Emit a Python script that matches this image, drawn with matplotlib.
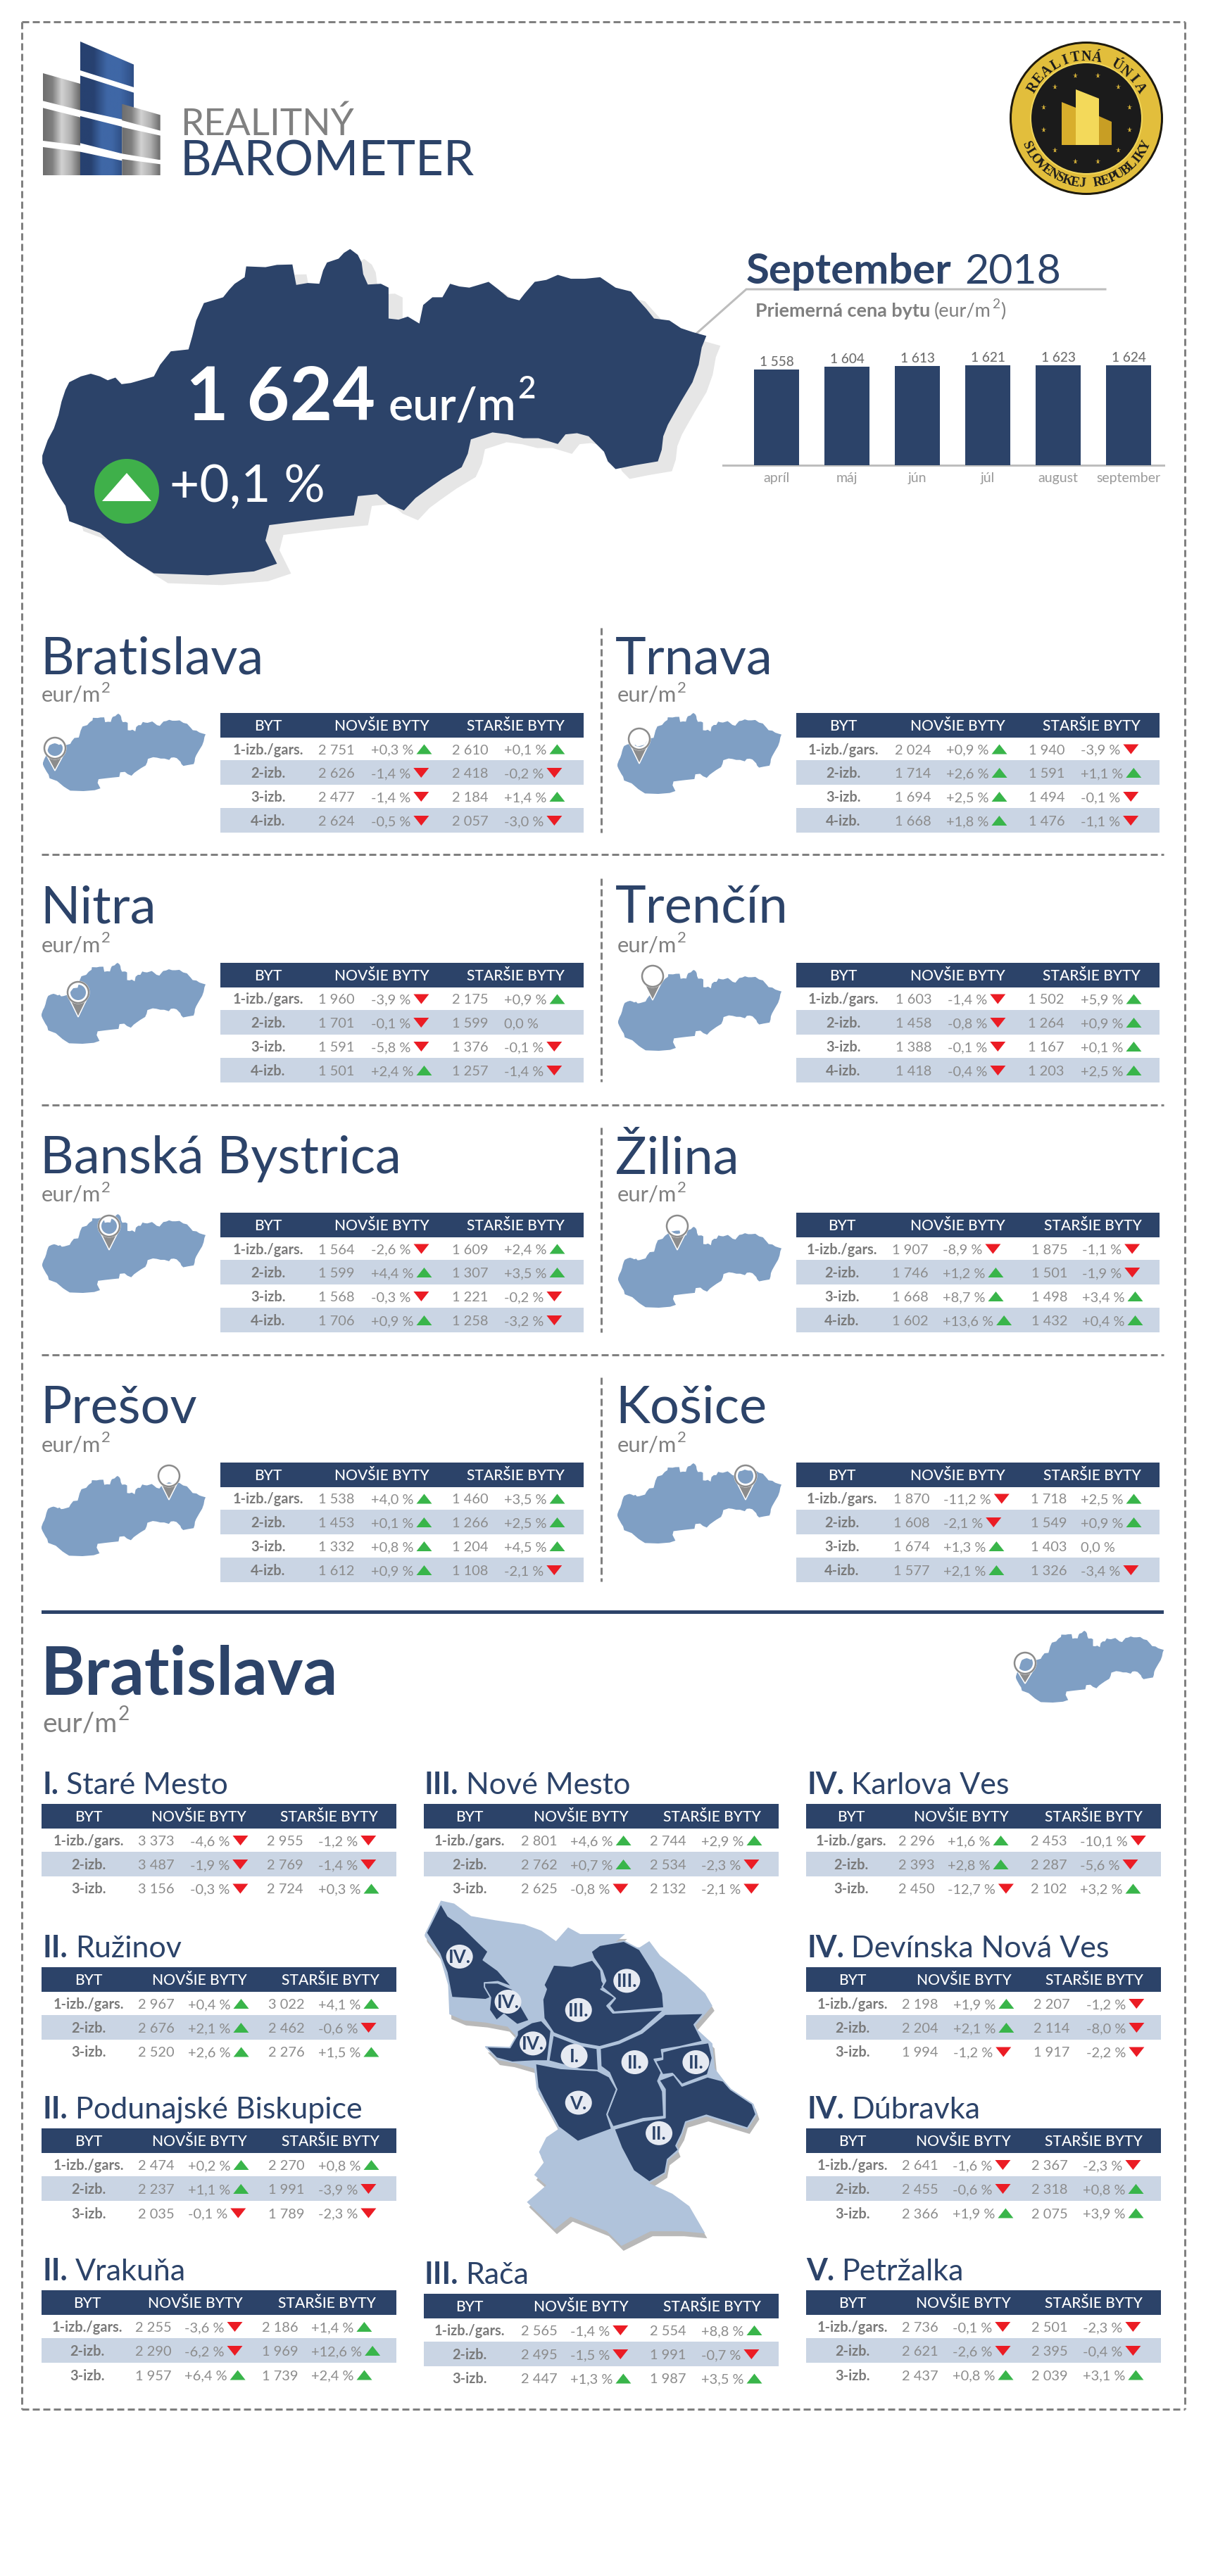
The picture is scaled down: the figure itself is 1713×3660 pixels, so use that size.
import math
import numpy as np
import matplotlib
matplotlib.use("Agg")
import matplotlib.pyplot as plt
from matplotlib.patches import Polygon, Circle, Ellipse, Rectangle
from matplotlib.colors import LinearSegmentedColormap

# ---------- data ----------
MONTHS = ["apríl", "máj", "jún", "júl", "august", "september"]
MONTH_PRICE = [1558, 1604, 1613, 1621, 1623, 1624]
NATIONAL_PRICE = "1 624"
NATIONAL_CHANGE = "+0,1 %"

ROOMS = ["1-izb./gars.", "2-izb.", "3-izb.", "4-izb."]
HEADERS = ["BYT", "NOVŠIE BYTY", "STARŠIE BYTY"]

REGION_NAMES = ["Bratislava", "Trnava", "Nitra", "Trenčín", "Banská Bystrica", "Žilina", "Prešov", "Košice"]
REGION_NEW_PRICE = [[2751, 2626, 2477, 2624], [2024, 1714, 1694, 1668], [1960, 1701, 1591, 1501],
                    [1603, 1458, 1388, 1418], [1564, 1599, 1568, 1706], [1907, 1746, 1668, 1602],
                    [1538, 1453, 1332, 1612], [1870, 1608, 1674, 1577]]
REGION_NEW_CHANGE = [[0.3, -1.4, -1.4, -0.5], [0.9, 2.6, 2.5, 1.8], [-3.9, -0.1, -5.8, 2.4],
                     [-1.4, -0.8, -0.1, -0.4], [-2.6, 4.4, -0.3, 0.9], [-8.9, 1.2, 8.7, 13.6],
                     [4.0, 0.1, 0.8, 0.9], [-11.2, -2.1, 1.3, 2.1]]
REGION_OLD_PRICE = [[2610, 2418, 2184, 2057], [1940, 1591, 1494, 1476], [2175, 1599, 1376, 1257],
                    [1502, 1264, 1167, 1203], [1609, 1307, 1221, 1258], [1875, 1501, 1498, 1432],
                    [1460, 1266, 1204, 1108], [1718, 1549, 1403, 1326]]
REGION_OLD_CHANGE = [[0.1, -0.2, 1.4, -3.0], [-3.9, 1.1, -0.1, -1.1], [0.9, 0.0, -0.1, -1.4],
                     [5.9, 0.9, 0.1, 2.5], [2.4, 3.5, -0.2, -3.2], [-1.1, -1.9, 3.4, 0.4],
                     [3.5, 2.5, 4.5, -2.1], [2.5, 0.9, 0.0, -3.4]]

DISTRICT_ROMAN = ["I.", "II.", "II.", "II.", "III.", "III.", "IV.", "IV.", "IV.", "V."]
DISTRICT_NAMES = ["Staré Mesto", "Ružinov", "Podunajské Biskupice", "Vrakuňa", "Nové Mesto", "Rača",
                  "Karlova Ves", "Devínska Nová Ves", "Dúbravka", "Petržalka"]
DISTRICT_NEW_PRICE = [[3373, 3487, 3156], [2967, 2676, 2520], [2474, 2237, 2035], [2255, 2290, 1957],
                      [2801, 2762, 2625], [2565, 2495, 2447], [2296, 2393, 2450], [2198, 2204, 1994],
                      [2641, 2455, 2366], [2736, 2621, 2437]]
DISTRICT_NEW_CHANGE = [[-4.6, -1.9, -0.3], [0.4, 2.1, 2.6], [0.2, 1.1, -0.1], [-3.6, -6.2, 6.4],
                       [4.6, 0.7, -0.8], [-1.4, -1.5, 1.3], [1.6, 2.8, -12.7], [1.9, 2.1, -1.2],
                       [-1.6, -0.6, 1.9], [-0.1, -2.6, 0.8]]
DISTRICT_OLD_PRICE = [[2955, 2769, 2724], [3022, 2462, 2276], [2270, 1991, 1789], [2186, 1969, 1739],
                      [2744, 2534, 2132], [2554, 1991, 1987], [2453, 2287, 2102], [2207, 2114, 1917],
                      [2367, 2318, 2075], [2501, 2395, 2039]]
DISTRICT_OLD_CHANGE = [[-1.2, -1.4, 0.3], [4.1, -0.6, 1.5], [0.8, -3.9, -2.3], [1.4, 12.6, 2.4],
                       [2.9, -2.3, -2.1], [8.8, -0.7, 3.5], [-10.1, -5.6, 3.2], [-1.2, -8.0, -2.2],
                       [-2.3, 0.8, 3.9], [-2.3, -0.4, 3.1]]

MAP_LABELS = ["IV.", "IV.", "IV.", "III.", "III.", "I.", "II.", "II.", "II.", "V."]

# ---------- layout ----------
W, H = 1713, 3660
NAVY = "#2C4369"
BAND = "#CAD5E4"
GRAY = "#808080"
MAP_BLUE = "#7F9FC4"
LIGHT_BLUE = "#B0C3DB"
UP = "#39B54A"
DOWN = "#EB1C24"
FONT = "Lato"

plt.rcParams["font.family"] = [FONT, "DejaVu Sans"]
plt.rcParams["lines.scale_dashes"] = False

fig = plt.figure(figsize=(W / 100, H / 100), dpi=100, facecolor="white")
ax = fig.add_axes([0, 0, 1, 1])
ax.set_xlim(0, W)
ax.set_ylim(H, 0)
ax.set_autoscale_on(False)
ax.axis("off")
renderer = fig.canvas.get_renderer()


def pt(px):
    return px * 0.72


def T(x, y, s, px, color=GRAY, weight="normal", ha="left", va="baseline", z=6, family=None, rot=0):
    return ax.text(x, y, s, fontsize=pt(px), color=color, fontweight=weight, ha=ha, va=va, zorder=z,
                   family=family if family else [FONT, "DejaVu Sans"], rotation=rot, rotation_mode="anchor")


def right_end(t):
    return t.get_window_extent(renderer).x1


def dashed(xs, ys, lw=3, on=10, off=5, color=GRAY):
    ax.plot(xs, ys, color=color, lw=pt(lw), ls=(0, (pt(on), pt(off))), dash_capstyle="butt", zorder=2)


def gradient_poly(pts, stops, z=3):
    xs = [p[0] for p in pts]
    ys = [p[1] for p in pts]
    cmap = LinearSegmentedColormap.from_list("g", stops)
    patch = Polygon(pts, closed=True, fc="none", ec="none", zorder=z)
    ax.add_patch(patch)
    im = ax.imshow(np.linspace(0, 1, 128).reshape(1, -1), cmap=cmap, aspect="auto",
                   extent=(min(xs), max(xs), max(ys), min(ys)), zorder=z, interpolation="bilinear")
    im.set_clip_path(patch)


# Slovakia outline, traced in image pixels
SK_TRACE = [(55, 1180), (62, 1140), (70, 1110), (76, 1075), (80, 1040), (85, 1010), (90, 990), (105, 975), (118, 968), (130, 975), (140, 985),
            (150, 978), (158, 995), (170, 992), (200, 975), (208, 945), (222, 910), (245, 905), (250, 870), (255, 830),
            (265, 785), (290, 770), (298, 750), (305, 735), (318, 718), (320, 690), (345, 692), (360, 686), (380, 685), (385, 738),
            (400, 733), (415, 735), (420, 700), (425, 680), (440, 670), (447, 655), (455, 645), (465, 660), (470, 680), (472, 710), (478, 737), (495, 735), (505, 745),
            (505, 825), (518, 828), (530, 820), (545, 838), (550, 790), (562, 770), (575, 770), (585, 735), (597, 742), (610, 745),
            (622, 738), (635, 730), (648, 750), (660, 770), (675, 778), (682, 760), (695, 730), (710, 725), (725, 712), (742, 722), (760, 722),
            (780, 718), (800, 745), (820, 755), (830, 778), (840, 800), (850, 825), (870, 830), (885, 850), (900, 860), (918, 870),
            (912, 900), (908, 945), (900, 990), (885, 1040), (875, 1075), (868, 1100), (862, 1130), (860, 1165), (855, 1195), (825, 1205), (800, 1215),
            (790, 1195), (785, 1170), (765, 1130), (750, 1122), (735, 1125), (725, 1150), (700, 1135), (680, 1135), (660, 1125), (640, 1120),
            (612, 1138), (608, 1175), (600, 1210), (575, 1240), (555, 1268), (540, 1290), (525, 1322), (505, 1305), (490, 1280),
            (465, 1285), (460, 1335), (425, 1342), (390, 1350), (350, 1360), (345, 1400), (360, 1460), (330, 1480), (270, 1490),
            (200, 1485), (180, 1460), (165, 1440), (130, 1380), (90, 1350), (85, 1310), (75, 1280), (60, 1225), (55, 1200)]
SK = np.array([(x / 0.915, y / 1.823) for x, y in SK_TRACE])


def sk_points(x0, y0, w, h):
    a = SK - SK.min(axis=0)
    a = a / a.max(axis=0)
    return a * [w, h] + [x0, y0]


def mini_map(x0, y0, w, h, pinx, pintop, pintip):
    pts = sk_points(x0, y0, w, h)
    ax.add_patch(Polygon(pts, closed=True, fc=MAP_BLUE, ec="none", zorder=3))
    r = 15
    cy = pintop + r + 1
    ax.add_patch(Polygon([(pinx - r + 1, cy + 6), (pinx, pintip), (pinx + r - 1, cy + 6)], closed=True,
                         fc="#8C8C8C", ec="white", lw=pt(1.5), zorder=4))
    ax.add_patch(Circle((pinx, cy), r + 1, fc="white", ec="white", lw=pt(1), zorder=4.1))
    ax.add_patch(Circle((pinx, cy), r, fc="white", ec="#8C8C8C", lw=pt(2.5), zorder=4.2))
    clip = Circle((pinx, cy), r - 4, transform=ax.transData, fc="none", ec="none")
    inner = Polygon(pts, closed=True, fc=MAP_BLUE, ec="none", zorder=4.3)
    ax.add_patch(inner)
    inner.set_clip_path(clip)


def sup_eur(x, y, px, color=GRAY):
    t = T(x, y, "eur/m", px, color=color)
    T(right_end(t) + px * 0.03, y - px * 0.42, "2", px * 0.72, color=color)


def price_text(v):
    return f"{v:,}".replace(",", " ")


def pct_text(v):
    if v == 0:
        return "0,0 %"
    return f"{v:+.1f} %".replace(".", ",")


def arrow(x, ycenter, v):
    if v == 0:
        return
    w, h = 22, 14
    if v > 0:
        p = [(x, ycenter + h / 2), (x + w, ycenter + h / 2), (x + w / 2, ycenter - h / 2)]
        c = UP
    else:
        p = [(x, ycenter - h / 2), (x + w, ycenter - h / 2), (x + w / 2, ycenter + h / 2)]
        c = DOWN
    ax.add_patch(Polygon(p, closed=True, fc=c, ec="none", zorder=5))


VAL = "#8C8C8C"


def table(x0, y0, width, cols, rows, newp, newc, oldp, oldc, hdr_h, row_tops):
    ax.add_patch(Rectangle((x0, y0), width, hdr_h, fc=NAVY, ec="none", zorder=3))
    hy = y0 + hdr_h / 2 + 7.5
    T(x0 + cols[0], hy, HEADERS[0], 21, color="white", weight="medium", ha="center")
    T(x0 + cols[1], hy, HEADERS[1], 21, color="white", weight="medium", ha="center")
    T(x0 + cols[2], hy, HEADERS[2], 21, color="white", weight="medium", ha="center")
    for i, room in enumerate(rows):
        top, bot = row_tops[i], row_tops[i + 1]
        if i % 2 == 1:
            ax.add_patch(Rectangle((x0, y0 + top), width, bot - top, fc=BAND, ec="none", zorder=3))
        yc = y0 + (top + bot) / 2 + 0.5
        yb = yc + 7
        T(x0 + cols[0], yb, room, 20, color="#7A7A7A", weight="bold", ha="center")
        T(x0 + cols[3], yb, price_text(newp[i]), 20, color=VAL)
        t = T(x0 + cols[4], yb, pct_text(newc[i]), 20, color=VAL)
        arrow(right_end(t) + 4, yc, newc[i])
        T(x0 + cols[5], yb, price_text(oldp[i]), 20, color=VAL)
        t = T(x0 + cols[6], yb, pct_text(oldc[i]), 20, color=VAL)
        arrow(right_end(t) + 4, yc, oldc[i])


# ---------- frame ----------
FX0, FX1, FY0, FY1 = 31, 1683, 31, 3423
dashed([FX0, FX1], [FY0, FY0])
dashed([FX0, FX1], [FY1, FY1])
dashed([FX0, FX0], [FY0, FY1])
dashed([FX1, FX1], [FY0, FY1])

# ---------- logo ----------
def L(pts):
    return [(40 + x / 3, 40 + y / 3) for x, y in pts]


BLUE = ["#274170", "#274170", "#3F67A6", "#3F67A6", "#2F4F86"]
GREYS = ["#6E6E6E", "#808080", "#D2D2D2", "#B0B0B0", "#6A6A6A"]
for poly in [[(222, 57), (450, 155), (450, 252), (222, 180)], [(222, 202), (450, 275), (450, 400), (222, 350)],
             [(222, 375), (400, 420), (400, 535), (222, 490)], [(222, 527), (400, 565), (400, 628), (222, 628)]]:
    gradient_poly(L(poly), BLUE)
for poly in [[(63, 192), (222, 237), (222, 350), (63, 310)], [(63, 340), (222, 380), (222, 500), (63, 480)],
             [(63, 507), (222, 527), (222, 628), (63, 628)], [(400, 323), (563, 370), (563, 437), (400, 393)],
             [(400, 422), (563, 458), (563, 562), (400, 535)], [(400, 558), (563, 580), (563, 628), (400, 628)]]:
    gradient_poly(L(poly), GREYS, z=3.5)
T(256, 192, "REALITNÝ", 53, color="#808080")
T(256, 250, "BAROMETER", 69, color=NAVY)

# ---------- seal ----------
SX, SY = 1543, 168
ax.add_patch(Circle((SX, SY), 109, fc="#1E1A0E", ec="none", zorder=3))
ax.add_patch(Circle((SX, SY), 106, fc="#E2BE3C", ec="none", zorder=3.1))
ax.add_patch(Circle((SX, SY), 79, fc="#1B1B1B", ec="#F1D65A", lw=pt(2), zorder=3.2))
for k in range(12):
    a = math.radians(15 + k * 30)
    ax.plot(SX + 63 * math.cos(a), SY - 63 * math.sin(a), marker="*", ms=pt(8), color="#D9B43A", mec="none", zorder=3.3)
for poly, c in [([(1508, 145), (1528, 153), (1528, 206), (1508, 206)], "#D8AE2C"),
                ([(1528, 127), (1561, 140), (1561, 206), (1528, 206)], "#F3D95A"),
                ([(1561, 165), (1579, 173), (1579, 206), (1561, 206)], "#C89E24")]:
    ax.add_patch(Polygon(poly, closed=True, fc=c, ec="none", zorder=3.4))
SEAL_TOP = "REALITNÁ ÚNIA"
SEAL_BOTTOM = "SLOVENSKEJ REPUBLIKY"
for i, ch in enumerate(SEAL_TOP):
    th = 150 - i * (120 / (len(SEAL_TOP) - 1))
    a = math.radians(th)
    ax.text(SX + 87 * math.cos(a), SY - 87 * math.sin(a), ch, fontsize=pt(20), fontweight="bold", family="Liberation Serif",
            color="#1B1B1B", rotation=th - 90, ha="center", va="center", rotation_mode="anchor", zorder=3.5)
for i, ch in enumerate(SEAL_BOTTOM):
    th = 205 + i * (130 / (len(SEAL_BOTTOM) - 1))
    a = math.radians(th)
    ax.text(SX + 93 * math.cos(a), SY - 93 * math.sin(a), ch, fontsize=pt(19), fontweight="bold", family="Liberation Serif",
            color="#1B1B1B", rotation=th + 90, ha="center", va="center", rotation_mode="anchor", zorder=3.5)

# ---------- national map ----------
ax.add_patch(Polygon(SK + [20, 14], closed=True, fc="#E6E6E6", ec="none", zorder=2.5))
ax.add_patch(Polygon(SK, closed=True, fc=NAVY, ec="none", zorder=3))
T(264, 597, NATIONAL_PRICE, 105, color="white", weight="bold")
t = T(552, 597, "eur/m", 66, color="white", weight="semibold")
T(right_end(t) + 1, 566, "2", 44, color="white", weight="semibold")
ax.add_patch(Circle((180, 698), 46, fc="#3FB04A", ec="none", zorder=5))
ax.add_patch(Polygon([(145, 712), (215, 712), (180, 672)], closed=True, fc="white", ec="none", zorder=5.1))
T(241, 713, NATIONAL_CHANGE, 73, color="white")

# ---------- title block + bars ----------
T(1060, 403, "September", 60, color=NAVY, weight="bold")
T(1370, 403, "2018", 59, color=NAVY, weight="normal")
ax.plot([989, 1060, 1570], [474, 411, 411], color="#BDBDBD", lw=pt(3), solid_joinstyle="miter", zorder=2)
t = T(1073, 450, "Priemerná cena bytu", 27, color=GRAY, weight="bold")
t2 = T(right_end(t) + 6, 450, "(eur/m", 27, color=GRAY)
t3 = T(right_end(t2) + 1, 438, "2", 19, color=GRAY)
T(right_end(t3) + 1, 450, ")", 27, color=GRAY)

BAR_LEFT, BAR_RIGHT, BAR_TOP, BAR_BOTTOM = 1027, 1653, 490, 661
bx = fig.add_axes([BAR_LEFT / W, 1 - BAR_BOTTOM / H, (BAR_RIGHT - BAR_LEFT) / W, (BAR_BOTTOM - BAR_TOP) / H])
bx.patch.set_alpha(0)
positions = np.arange(len(MONTHS))
bx.bar(positions, MONTH_PRICE, width=0.64, color=NAVY, zorder=3)
bx.set_xlim((BAR_LEFT - 1103) / 100, (BAR_RIGHT - 1103) / 100)
bx.set_ylim(0, (BAR_BOTTOM - BAR_TOP) * 1624 / 142)
for p, v in zip(positions, MONTH_PRICE):
    bx.annotate(price_text(v), (p, v), xytext=(0, pt(2)), textcoords="offset points", ha="center", va="bottom",
                fontsize=pt(19), color="#707070", fontweight="medium")
bx.set_xticks(positions, MONTHS)
bx.tick_params(axis="x", length=0, pad=pt(10), labelsize=pt(19.5), labelcolor="#9A9A9A")
bx.set_yticks([])
for s in ["left", "right", "top"]:
    bx.spines[s].set_visible(False)
bx.spines["bottom"].set_color("#BDBDBD")
bx.spines["bottom"].set_linewidth(pt(3))

# ---------- regional panels ----------
REGION_X = [313, 1131, 313, 1131, 313, 1131, 313, 1131]
REGION_TITLE_X = [57, 874, 57, 874, 57, 874, 57, 874]
REGION_EUR_X = [59, 877, 59, 877, 59, 877, 59, 877]
REGION_Y = [1013, 1013, 1368, 1368, 1723, 1723, 2078, 2078]
REGION_COLS = [(68, 229, 419, 139, 214, 329, 403), (67, 229, 419, 140, 213, 330, 404),
               (68, 229, 419, 139, 214, 329, 403), (67, 229, 419, 141, 215, 329, 404),
               (68, 229, 419, 139, 214, 329, 403), (65, 229, 421, 136, 208, 334, 406),
               (68, 229, 419, 139, 214, 329, 403), (65, 229, 420, 138, 209, 333, 404)]
REGION_MAP = [(61, 1014, 231, 110), (877, 1013, 233, 115), (59, 1368, 233, 115), (878, 1378, 232, 115),
              (60, 1725, 232, 112), (878, 1743, 232, 115), (59, 2097, 233, 114), (877, 2079, 233, 114)]
REGION_PIN = [(78, 1047, 1095), (908, 1034, 1085), (111, 1394, 1445), (927, 1371, 1421),
              (155, 1726, 1776), (962, 1726, 1776), (240, 2081, 2131), (1059, 2081, 2131)]
ROW_TOPS4 = [35, 67, 102, 135, 170]

for i, name in enumerate(REGION_NAMES):
    y0 = REGION_Y[i]
    T(REGION_TITLE_X[i], y0 - 56, name, 74, color=NAVY, weight="normal")
    sup_eur(REGION_EUR_X[i], y0 - 16, 31)
    mx, my, mw, mh = REGION_MAP[i]
    mini_map(mx, my, mw, mh, *REGION_PIN[i])
    table(REGION_X[i], y0, 516, REGION_COLS[i], ROOMS, REGION_NEW_PRICE[i], REGION_NEW_CHANGE[i],
          REGION_OLD_PRICE[i], REGION_OLD_CHANGE[i], 35, ROW_TOPS4)

for yh in [1214, 1570, 1925]:
    dashed([59, 1653], [yh, yh])
for a, b in [(892, 1183), (1248, 1537), (1602, 1893), (1957, 2247)]:
    dashed([854, 854], [a, b])
ax.add_patch(Rectangle((59, 2287.5), 1594, 5, fc=NAVY, ec="none", zorder=3))

# ---------- Bratislava section ----------
T(57, 2408, "Bratislava", 96, color=NAVY, weight="bold")
sup_eur(60, 2460, 39)
mini_map(1443, 2317, 210, 102, 1456, 2347, 2392)

DISTRICT_X = [59, 59, 59, 59, 602, 602, 1145, 1145, 1145, 1145]
DISTRICT_Y = [2563, 2795, 3024, 3254, 2563, 3259, 2563, 2795, 3024, 3254]
DISTRICT_ROMAN_X = [61, 61, 61, 61, 603, 603, 1146, 1146, 1146, 1145]
DISTRICT_COLS = [(67, 223, 408, 137, 211, 320, 393), (67, 224, 410, 137, 208, 322, 393),
                 (67, 224, 410, 137, 208, 322, 393), (65, 218, 405, 133, 203, 313, 383),
                 (65, 223, 409, 138, 208, 321, 394), (65, 223, 409, 138, 208, 321, 394),
                 (64, 220, 408, 131, 201, 319, 389), (66, 224, 409, 136, 209, 323, 398),
                 (66, 223, 408, 136, 208, 320, 393), (66, 223, 408, 136, 208, 320, 393)]
ROW_TOPS3 = [35, 68, 103, 137]
for i, name in enumerate(DISTRICT_NAMES):
    y0 = DISTRICT_Y[i]
    t = T(DISTRICT_ROMAN_X[i], y0 - 14, DISTRICT_ROMAN[i], 43, color=NAVY, weight="bold")
    T(right_end(t) + 10, y0 - 14, name, 43, color=NAVY, weight="normal")
    table(DISTRICT_X[i], y0, 504, DISTRICT_COLS[i], ROOMS[:3], DISTRICT_NEW_PRICE[i], DISTRICT_NEW_CHANGE[i],
          DISTRICT_OLD_PRICE[i], DISTRICT_OLD_CHANGE[i], 35, ROW_TOPS3)


# ---------- city map ----------
def Z(pts):
    return [(590 + x / 2.904, 2500 + y / 1.686) for x, y in pts]


CITY = [(38, 420), (105, 338), (160, 345), (230, 375), (330, 385), (450, 395), (520, 410), (580, 435), (630, 402),
        (680, 418), (865, 418), (800, 450), (925, 450), (965, 435), (1010, 470), (1120, 520), (1195, 560), (1225, 590),
        (1195, 610), (1150, 640), (1225, 680), (1235, 740), (1300, 790), (1395, 825), (1410, 850), (1370, 885),
        (1200, 855), (1115, 870), (1100, 900), (1075, 925), (1085, 940), (1040, 960), (1030, 990), (965, 1015),
        (1060, 1040), (1130, 1070), (1195, 1135), (1100, 1130), (970, 1130), (850, 1165), (790, 1130), (640, 1095),
        (575, 1125), (460, 1060), (540, 1020), (490, 995), (530, 965), (510, 940), (540, 905), (590, 885), (530, 820),
        (500, 790), (490, 740), (400, 725), (340, 720), (290, 690), (400, 690), (420, 665), (380, 640), (290, 630),
        (200, 625), (140, 610), (135, 540), (100, 470), (40, 425)]
DISTRICT_SHAPES = [
    [(45, 415), (105, 345), (135, 375), (185, 395), (255, 435), (300, 460), (280, 480), (340, 505), (400, 545),
     (340, 532), (285, 535), (310, 570), (290, 575), (150, 570), (130, 510), (100, 465)],
    [(285, 535), (340, 535), (400, 550), (440, 595), (470, 625), (420, 635), (365, 610), (335, 625), (305, 600),
     (310, 570), (285, 545)],
    [(290, 688), (390, 690), (420, 660), (420, 650), (480, 630), (520, 625), (560, 650), (545, 722), (490, 722),
     (400, 725), (335, 715)],
    [(530, 620), (525, 575), (540, 550), (530, 540), (570, 492), (645, 495), (730, 480), (765, 505), (770, 530),
     (785, 545), (765, 550), (825, 570), (790, 590), (815, 607), (1025, 600), (930, 650), (840, 675), (760, 688),
     (680, 680), (570, 655)],
    [(725, 460), (760, 445), (860, 435), (925, 455), (985, 510), (1020, 560), (1025, 595), (820, 605), (800, 590),
     (825, 572), (770, 545), (785, 530), (770, 505), (735, 475)],
    [(568, 660), (680, 685), (750, 692), (755, 745), (680, 742), (550, 722)],
    [(762, 692), (840, 680), (935, 655), (1030, 610), (1190, 608), (1150, 635), (1185, 675), (1090, 688), (1015, 695),
     (1020, 715), (985, 718), (1015, 750), (1000, 770), (1020, 795), (1025, 855), (940, 860), (815, 880), (790, 850),
     (830, 790), (800, 750), (765, 735)],
    [(990, 722), (1020, 718), (1020, 700), (1100, 688), (1210, 678), (1225, 715), (1205, 755), (1135, 770), (1100, 778),
     (1060, 752), (1020, 755)],
    [(820, 885), (940, 865), (1030, 858), (1030, 790), (1005, 768), (1065, 755), (1100, 782), (1205, 760), (1270, 770),
     (1300, 790), (1390, 825), (1405, 850), (1370, 883), (1200, 852), (1115, 868), (1100, 895), (1075, 925), (1085, 935),
     (1040, 958), (1030, 990), (965, 1012), (900, 985), (850, 930)],
    [(495, 728), (600, 740), (750, 745), (800, 760), (830, 790), (790, 850), (810, 885), (670, 915), (590, 880),
     (530, 815), (505, 785)],
]
MAP_LABEL_POS = [(182, 472), (382, 580), (485, 680), (673, 600), (872, 530), (655, 710), (905, 725), (1157, 725), (1005, 895), (673, 822)]
city_pts = np.array(Z(CITY))
ax.add_patch(Polygon(city_pts + [3, 7], closed=True, fc="#B8B8B8", ec="none", zorder=3))
ax.add_patch(Polygon(city_pts, closed=True, fc=LIGHT_BLUE, ec="none", zorder=3.1))
for shp in DISTRICT_SHAPES:
    ax.add_patch(Polygon(Z(shp), closed=True, fc=NAVY, ec=LIGHT_BLUE, lw=pt(2), zorder=3.2, joinstyle="round"))
for lab, p in zip(MAP_LABELS, MAP_LABEL_POS):
    cx, cy = Z([p])[0]
    ax.add_patch(Ellipse((cx, cy), 38, 34, fc="#E6EAF2", ec="none", zorder=3.3))
    T(cx, cy + 9, lab, 26, color=NAVY, weight="bold", ha="center")

ax.set_xlim(0, W)
ax.set_ylim(H, 0)
fig.savefig("out.png", dpi=100, facecolor="white")
